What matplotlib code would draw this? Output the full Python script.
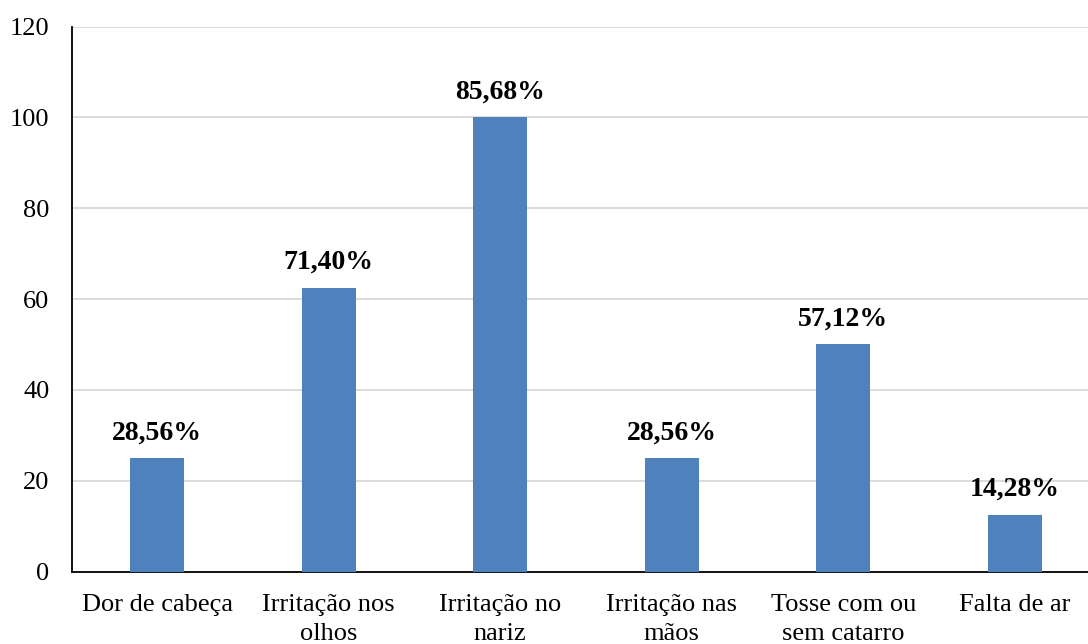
import matplotlib
matplotlib.use('Agg')

import matplotlib.pyplot as plt
import numpy as np

# Symptom categories and bar heights
categories = ['Dor de cabeça', 'Irritação nos\nolhos', 'Irritação no\nnariz',
              'Irritação nas\nmãos', 'Tosse com ou\nsem catarro', 'Falta de ar']
values = [25, 62.5, 100, 25, 50, 12.5]
pct_labels = ['28,56%', '71,40%', '85,68%', '28,56%', '57,12%', '14,28%']
y_ticks = [0, 20, 40, 60, 80, 100, 120]

BAR_COLOR = '#4F81BD'
GRID_COLOR = '#D9D9D9'

plt.rcParams['font.family'] = ['Liberation Serif', 'DejaVu Serif']

fig = plt.figure(figsize=(10.88, 6.44), dpi=100)
ax = fig.add_axes([71.5 / 1088, 72.5 / 644, 1029 / 1088, 545 / 644])

x = np.arange(len(categories))
ax.bar(x, values, width=0.315, color=BAR_COLOR, zorder=3)

for xi, v, lab in zip(x, values, pct_labels):
    ax.annotate(lab, (xi, v), xytext=(0, 13.5), textcoords='offset points',
                ha='center', va='baseline', fontsize=20, fontweight='bold')

ax.set_xlim(-0.5, len(categories) - 0.5)
ax.set_ylim(0, 120)
ax.set_yticks(y_ticks)
ax.set_xticks(x)
ax.set_xticklabels(categories, fontsize=19, linespacing=1.4)
ax.tick_params(axis='y', labelsize=19, length=0, pad=16)
ax.tick_params(axis='x', length=0, pad=16)

ax.yaxis.grid(True, color=GRID_COLOR, linewidth=1.3, zorder=0)
ax.set_axisbelow(True)
for side in ('top', 'right'):
    ax.spines[side].set_visible(False)
ax.spines['left'].set_linewidth(1.3)
ax.spines['bottom'].set_linewidth(1.3)

fig.savefig('out.png', dpi=100)
